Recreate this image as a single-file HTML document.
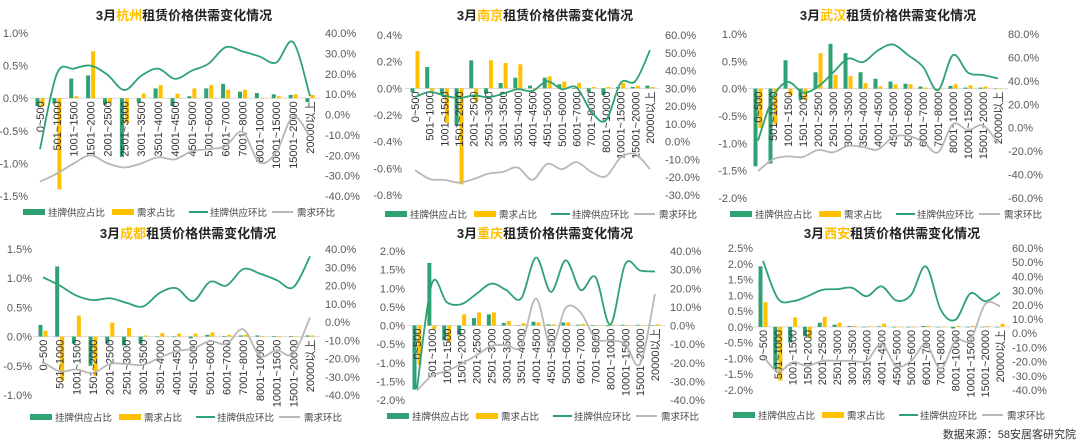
<!DOCTYPE html>
<html><head><meta charset="utf-8">
<style>
html,body{margin:0;padding:0;background:#fff;}
svg{display:block;font-family:"Liberation Sans","Noto Sans CJK SC",sans-serif;}
</style></head>
<body>
<svg id="root" width="1080" height="443" viewBox="0 0 1080 443">
<text x="1076" y="438" text-anchor="end" font-size="11" fill="#333">数据来源：58安居客研究院</text>
</svg>
<script>
const cats = ["0~500","501~1000","1001~1500","1501~2000","2001~2500","2501~3000","3001~3500","3501~4000","4001~4500","4501~5000","5001~6000","6001~7000","7001~8000","8001~10000","10001~15000","15001~20000","20000以上"];

const hzSupply = [-0.12,-0.08,0.3,0.35,-0.1,-0.9,-0.07,0.15,-0.12,0.03,0.15,0.22,0.1,0.08,0.06,0.05,-0.06];
const hzDemand = [-0.12,-1.4,0.03,0.72,-0.07,-0.38,0.07,0.2,0.07,0.15,0.2,0.13,0.13,0.0,0.03,0.06,0.05];
const hzSupplyMoM = [-17,20,22.5,24,19.5,12,19,22.5,17.5,21.5,25,33,31,28.5,25.5,35.5,9];
const hzDemandMoM = [-33,-29,-24,-20,-24,-26,-24,-21,-22,-18,-17,-15.5,-8.5,-23.5,-18.5,-1,-11];

const njSupply = [-0.03,0.16,-0.05,-0.28,0.21,-0.04,0.04,0.08,0.02,0.08,0.03,0.0,-0.03,-0.05,0.01,0.01,0.02];
const njDemand = [0.28,-0.02,-0.26,-0.72,-0.1,0.21,0.19,0.18,-0.01,0.09,0.05,0.04,0.01,0.01,0.04,0.02,0.01];
const njSupplyMoM = [25,28,26,24.5,26,25,27,29.5,28.5,34,29.5,30.5,17,12,33,34,51.5];
const njDemandMoM = [-16,-21,-21.5,-23,-21,-18,-17,-14.5,-21.5,-12.5,-15.5,-11.5,-17,-19.5,-9,-7,-15.5];

const whSupply = [-1.42,-1.37,0.52,-0.2,0.3,0.82,0.65,0.3,0.18,0.13,0.09,0.04,0.0,0.05,0.02,0.02,0.0];
const whDemand = [-0.72,-0.65,-0.12,-0.2,0.65,0.25,0.23,0.1,0.04,0.08,0.08,0.02,0.0,0.08,0.06,0.04,0.0];
const whSupplyMoM = [-11,26,39,30,35,47,59,56,66,71,62,52,32,62,47,45,42];
const whDemandMoM = [-37,-27,-24.5,-25,-19,-21,-15.5,-16.5,-18.5,-8,-7,-12,-21,3,-2,2,-13];

const cdSupply = [0.2,1.2,-0.12,-0.5,-0.12,-0.15,-0.12,0.0,0.0,-0.03,0.03,0.01,0.02,0.02,0.01,0.01,0.02];
const cdDemand = [0.1,-0.75,0.36,-0.68,0.24,0.15,0.02,0.06,0.05,0.05,0.07,0.03,0.03,0.01,0.01,0.0,0.02];
const cdSupplyMoM = [24.5,20,14.5,12,13,10.5,8.5,16,18.5,11.5,22,20,29,26.5,23,19,36];
const cdDemandMoM = [-22,-27,-26,-28,-23,-23,-23.5,-19.5,-16,-14.5,-10.5,-12,-4,-18.5,-15.5,-17.5,2.5];

const cqSupply = [-1.72,1.68,-0.4,-0.25,0.2,0.3,0.07,0.0,0.1,0.03,0.08,0.02,0.01,-0.02,0.02,0.02,0.0];
const cqDemand = [-1.05,-0.1,-0.45,0.3,0.35,0.35,0.12,0.06,0.08,0.03,0.08,0.04,0.0,0.02,0.0,0.0,0.03];
const cqSupplyMoM = [-34,22.5,12.5,11.5,17,22.5,19,14.5,36.5,18,35,19,26,0.5,33,29.5,29];
const cqDemandMoM = [-35,-27,-24.5,-20.5,-16,-11,-10.5,-11,14.5,-11,9.5,7,-7,-8,-10,-20.5,17];

const xaSupply = [1.92,-1.35,-0.5,-0.3,0.13,0.07,0.03,0.0,0.02,0.0,0.0,0.03,0.0,-0.05,0.0,0.0,0.0];
const xaDemand = [0.78,-1.7,0.3,-0.35,0.32,0.13,0.03,0.02,0.1,0.0,0.0,0.03,0.0,0.03,0.03,0.03,0.1];
const xaSupplyMoM = [51,24.5,22.5,26,30.5,31,32,26,33,23,27,47,16.5,9.5,28,22.5,28.5];
const xaDemandMoM = [-16,-27,-20.5,-23,-19.5,-19.5,-19.5,-19.5,-7.5,-23,-19.5,-8,-25,-5,-5,20.5,19];

const hzLeftTicks = [1.0,0.5,0.0,-0.5,-1.0,-1.5];
const hzRightTicks = [40,30,20,10,0,-10,-20,-30,-40];
const njLeftTicks = [0.4,0.2,0.0,-0.2,-0.4,-0.6,-0.8];
const njRightTicks = [60,50,40,30,20,10,0,-10,-20,-30];
const whLeftTicks = [1.0,0.5,0.0,-0.5,-1.0,-1.5,-2.0];
const whRightTicks = [80,60,40,20,0,-20,-40,-60];
const cdLeftTicks = [1.5,1.0,0.5,0.0,-0.5,-1.0];
const cdRightTicks = [40,30,20,10,0,-10,-20,-30,-40];
const cqLeftTicks = [2.0,1.5,1.0,0.5,0.0,-0.5,-1.0,-1.5,-2.0];
const cqRightTicks = [40,30,20,10,0,-10,-20,-30,-40];
const xaLeftTicks = [2.5,2.0,1.5,1.0,0.5,0.0,-0.5,-1.0,-1.5,-2.0];
const xaRightTicks = [60,50,40,30,20,10,0,-10,-20,-30,-40];

const cityNames = ["杭州","南京","武汉","成都","重庆","西安"];

const NS = "http://www.w3.org/2000/svg";
const root = document.getElementById('root');
const GREEN = "#2ea273", YELLOW = "#ffc000", GRAY = "#b8b8b8";

function mk(tag, attrs, parent) {
  const e = document.createElementNS(NS, tag);
  for (const k in attrs) e.setAttribute(k, attrs[k]);
  (parent || root).appendChild(e);
  return e;
}
function smooth(pts) {
  let d = "M" + pts[0][0] + "," + pts[0][1];
  for (let i = 0; i < pts.length - 1; i++) {
    const p0 = pts[i - 1] || pts[i], p1 = pts[i], p2 = pts[i + 1], p3 = pts[i + 2] || p2;
    const c1x = p1[0] + (p2[0] - p0[0]) / 6, c1y = p1[1] + (p2[1] - p0[1]) / 6;
    const c2x = p2[0] - (p3[0] - p1[0]) / 6, c2y = p2[1] - (p3[1] - p1[1]) / 6;
    d += " C" + c1x + "," + c1y + " " + c2x + "," + c2y + " " + p2[0] + "," + p2[1];
  }
  return d;
}

function drawChart(L, city, supply, demand, supMoM, demMoM, lTicks, rTicks) {
  const g = mk('g', {});
  
  
  const lmax = lTicks[0], lmin = lTicks[lTicks.length - 1];
  const rmax = rTicks[0], rmin = rTicks[rTicks.length - 1];
  const yL = v => L.top + (lmax - v) / (lmax - lmin) * (L.bot - L.top);
  const yR = v => L.top + (rmax - v) / (rmax - rmin) * (L.bot - L.top);
  const xC = i => L.x0 + i * (L.x1 - L.x0) / (cats.length - 1);

  const t = mk('text', {x: L.tx, y: L.ty, 'text-anchor': 'middle', 'font-size': 13, 'font-weight': 'bold', fill: '#222'}, g);
  
  
  const s1 = mk('tspan', {}, t); s1.textContent = "3月";
  const s2 = mk('tspan', {fill: YELLOW}, t); s2.textContent = city;
  const s3 = mk('tspan', {}, t); s3.textContent = "租赁价格供需变化情况";

  lTicks.forEach(v => {
    const e = mk('text', {x: L.lx, y: yL(v) + 4, 'text-anchor': 'end', 'font-size': 11, fill: '#595959'}, g);
    
    
    e.textContent = v.toFixed(1) + "%";
  });
  rTicks.forEach(v => {
    const e = mk('text', {x: L.rx, y: yR(v) + 4, 'text-anchor': 'start', 'font-size': 11, fill: '#595959'}, g);
    
    
    e.textContent = v.toFixed(1) + "%";
  });
  const z = yL(0);
  const zl = mk('line', {x1: L.x0 - 10, x2: L.x1 + 10, y1: z, y2: z, stroke: '#d9d9d9', 'stroke-width': 1}, g);
  
  

  const bw = 4;
  supply.forEach((v, i) => {
    const y = yL(v);
    const b = mk('rect', {x: xC(i) - bw - 0.5, y: Math.min(y, z), width: bw, height: Math.max(Math.abs(y - z), 0.5), fill: GREEN}, g);
    
    
  });
  demand.forEach((v, i) => {
    const y = yL(v);
    const b = mk('rect', {x: xC(i) + 0.5, y: Math.min(y, z), width: bw, height: Math.max(Math.abs(y - z), 0.5), fill: YELLOW}, g);
    
    
  });

  cats.forEach((c, i) => {
    const x = xC(i) + 4, y = z + 3;
    const e = mk('text', {x: x, y: y, 'text-anchor': 'end', 'font-size': 11, fill: '#333', transform: 'rotate(-90 ' + x + ' ' + y + ')'}, g);
    
    
    e.textContent = c;
  });

  const l1 = mk('path', {d: smooth(supMoM.map((v, i) => [xC(i), yR(v)])), fill: 'none', stroke: GREEN, 'stroke-width': 1.8}, g);
  
  
  const l2 = mk('path', {d: smooth(demMoM.map((v, i) => [xC(i), yR(v)])), fill: 'none', stroke: GRAY, 'stroke-width': 1.8}, g);
  
  

  const lg = mk('g', {}, g);
  
  
  const lx = L.legX, ly = L.legY;
  const r1 = mk('rect', {x: lx, y: ly - 3, width: 22, height: 6, fill: GREEN}, lg);
  
  
  const r2 = mk('rect', {x: lx + 89, y: ly - 3, width: 22, height: 6, fill: YELLOW}, lg);
  
  
  const r3 = mk('line', {x1: lx + 166, x2: lx + 185, y1: ly, y2: ly, stroke: GREEN, 'stroke-width': 2}, lg);
  
  
  const r4 = mk('line', {x1: lx + 249, x2: lx + 270, y1: ly, y2: ly, stroke: GRAY, 'stroke-width': 2}, lg);
  
  
  [["挂牌供应占比", 25], ["需求占比", 114], ["挂牌供应环比", 187], ["需求环比", 274]].forEach(p => {
    const e = mk('text', {x: lx + p[1], y: ly + 4, 'font-size': 9.5, fill: '#404040'}, lg);
    
    
    e.textContent = p[0];
  });
}

drawChart({key:'hangzhou', top:33, bot:196, x0:40, x1:310, lx:28, rx:325, legX:23, legY:212, tx:184, ty:20}, cityNames[0], hzSupply, hzDemand, hzSupplyMoM, hzDemandMoM, hzLeftTicks, hzRightTicks);
drawChart({key:'nanjing', top:35, bot:195, x0:415, x1:650, lx:402, rx:665, legX:385, legY:214, tx:545, ty:20}, cityNames[1], njSupply, njDemand, njSupplyMoM, njDemandMoM, njLeftTicks, njRightTicks);
drawChart({key:'wuhan', top:34, bot:198, x0:758, x1:998, lx:747, rx:1008, legX:730, legY:214, tx:888, ty:20}, cityNames[2], whSupply, whDemand, whSupplyMoM, whDemandMoM, whLeftTicks, whRightTicks);
drawChart({key:'chengdu', top:249, bot:395, x0:43, x1:310, lx:32, rx:325, legX:30, legY:417, tx:188, ty:238}, cityNames[3], cdSupply, cdDemand, cdSupplyMoM, cdDemandMoM, cdLeftTicks, cdRightTicks);
drawChart({key:'chongqing', top:251, bot:400, x0:417, x1:655, lx:405, rx:670, legX:387, legY:416, tx:545, ty:238}, cityNames[4], cqSupply, cqDemand, cqSupplyMoM, cqDemandMoM, cqLeftTicks, cqRightTicks);
drawChart({key:'xian', top:248, bot:390, x0:763, x1:1000, lx:753, rx:1012, legX:733, legY:415, tx:892, ty:238}, cityNames[5], xaSupply, xaDemand, xaSupplyMoM, xaDemandMoM, xaLeftTicks, xaRightTicks);
</script>
</body></html>
